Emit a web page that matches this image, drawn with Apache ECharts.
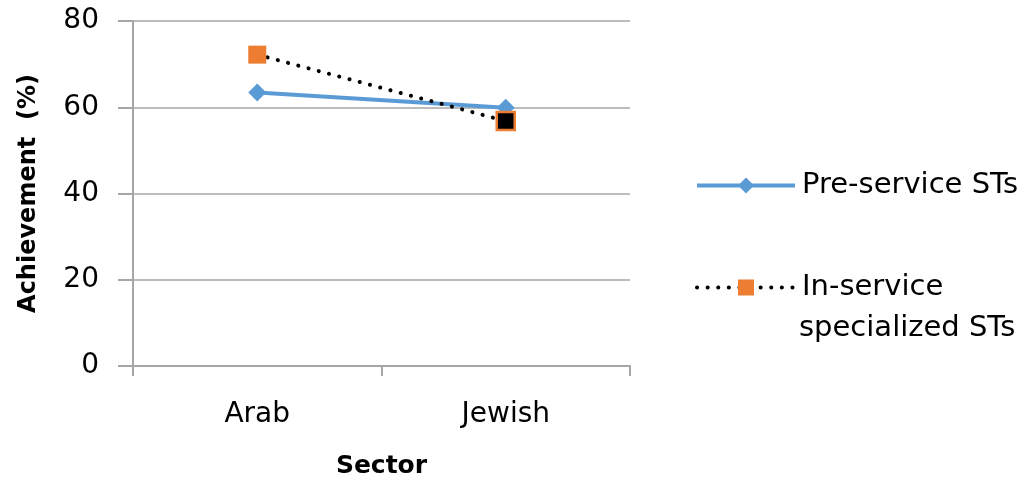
<!DOCTYPE html>
<html><head><meta charset="utf-8">
<script src="https://cdn.jsdelivr.net/npm/echarts@6/dist/echarts.min.js"></script>
<style>html,body{margin:0;padding:0;background:#fff;overflow:hidden}#c{width:1028px;height:477px}</style>
</head><body><div id="c"></div>
<script>
const categories = ['Arab', 'Jewish'];
const preService = [63.4, 59.9];
const inService = [72.2, 56.8];
const yTicks = [0, 20, 40, 60, 80];
const seriesNames = ['Pre-service STs', 'In-service specialized STs'];

const FONT = 'DejaVu Sans';
const chart = echarts.init(document.getElementById('c'), null, {renderer: 'canvas'});
chart.setOption({
  animation: false,
  backgroundColor: '#fff',
  textStyle: {fontFamily: FONT},
  grid: {left: 133, right: 398, top: 21, bottom: 111, containLabel: false, outerBoundsMode: 'none'},
  legend: [
    {
      data: [seriesNames[0]], orient: 'vertical', left: 690, top: 166,
      itemWidth: 98, itemHeight: 20,
      lineStyle: {width: 4, color: '#5b9bd5'},
      textStyle: {fontFamily: FONT, fontSize: 29, color: '#000', padding: [0, 0, 0, 2]}
    },
    {
      data: [seriesNames[1]], orient: 'vertical', left: 690, top: 268,
      itemWidth: 98, itemHeight: 20,
      formatter: function(){ return 'In-service'; },
      lineStyle: {width: 4, color: '#000', type: [0.1, 10.5], cap: 'round'},
      textStyle: {fontFamily: FONT, fontSize: 29, color: '#000', padding: [0, 0, 0, 2]}
    }
  ],
  graphic: [{
    type: 'text', left: 799, top: 314,
    style: {text: 'specialized STs', fontFamily: FONT, fontSize: 29, fill: '#000'}
  }],
  xAxis: {
    type: 'category', data: categories, boundaryGap: true,
    name: 'Sector', nameLocation: 'middle', nameGap: 88,
    nameTextStyle: {fontFamily: FONT, fontSize: 25, fontWeight: 'bold', color: '#000'},
    axisLine: {lineStyle: {color: '#a6a6a6', width: 2}},
    axisTick: {show: true, length: 10, lineStyle: {color: '#a6a6a6', width: 2}},
    axisLabel: {fontFamily: FONT, fontSize: 28, color: '#000', margin: 35}
  },
  yAxis: {
    type: 'value', min: 0, max: 80, interval: 20,
    name: 'Achievement  (%)', nameLocation: 'middle', nameGap: 92, nameRotate: 90,
    nameTextStyle: {fontFamily: FONT, fontSize: 24, fontWeight: 'bold', color: '#000'},
    axisLine: {show: true, lineStyle: {color: '#a6a6a6', width: 2}},
    axisTick: {show: true, length: 15, lineStyle: {color: '#a6a6a6', width: 2}},
    splitLine: {lineStyle: {color: '#a6a6a6', width: 1.5}},
    axisLabel: {fontFamily: FONT, fontSize: 28, color: '#000', margin: 34,
      formatter: function(v){ return yTicks.indexOf(v) >= 0 ? String(v) : ''; }}
  },
  series: [
    {
      name: seriesNames[0], type: 'line', data: preService,
      symbol: 'diamond', symbolSize: 18,
      itemStyle: {color: '#5b9bd5'},
      lineStyle: {color: '#5b9bd5', width: 4}, z: 2
    },
    {
      name: seriesNames[1], type: 'line',
      data: inService.map(function(v, i){
        return i === 1 ? {value: v, itemStyle: {color: '#000', borderColor: '#ed7d31', borderWidth: 2.5}} : v;
      }),
      symbol: 'rect', symbolSize: 18,
      itemStyle: {color: '#ed7d31'},
      lineStyle: {color: '#000', width: 4, type: [0.1, 10.5], cap: 'round'}, z: 3
    }
  ]
});
</script></body></html>
